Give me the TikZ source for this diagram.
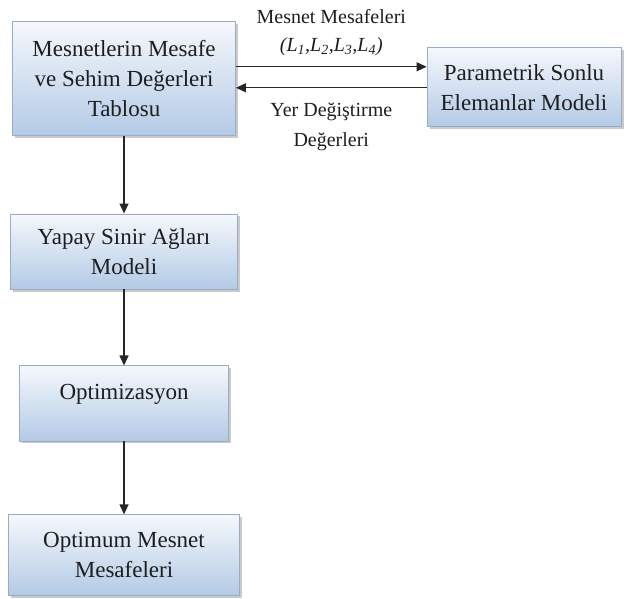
\documentclass[tikz,border=0pt]{standalone}
\usepackage{fontspec}
\setmainfont{Liberation Serif}
\usetikzlibrary{arrows.meta, positioning, calc, shadows}
\definecolor{boxtop}{HTML}{F5F8FC}
\definecolor{boxbot}{HTML}{B3CAE6}
\definecolor{boxline}{HTML}{98ACC6}
\definecolor{inktext}{HTML}{1E1E1E}
\tikzset{
  gbox/.style={rectangle, draw=boxline, line width=0.8pt,
               top color=boxtop, bottom color=boxbot,
               drop shadow={shadow xshift=2.5pt, shadow yshift=-2.5pt,
                            fill=black!35, opacity=0.6},
               minimum width=#1, minimum height=2.64cm, align=center,
               text=inktext, font=\fontsize{23}{30}\selectfont},
  gbox/.default=7.8cm,
  lbl/.style={font=\fontsize{20}{28}\selectfont, text=inktext, align=center},
  arr/.style={-{Triangle[length=10pt, width=9pt]}, line width=1.3pt, #1},
  arr/.default=black!85,
}
\begin{document}
\begin{tikzpicture}
  \useasboundingbox (0,0) rectangle (22.04,21.05);

  % left column
  \node[gbox=7.84cm, minimum height=4.01cm] (tablo) at (4.36, 18.28)
    {Mesnetlerin Mesafe\\ve Sehim Değerleri\\Tablosu};
  \node[gbox=7.98cm] (ysa) at (4.36, 12.21) {Yapay Sinir Ağları\\Modeli};
  \node[gbox=7.35cm, text depth=23.5pt] (opt) at (4.36, 6.87) {Optimizasyon};
  \node[gbox=8.12cm, minimum height=2.85cm] (sonuc) at (4.36, 1.53)
    {Optimum Mesnet\\Mesafeleri};

  % finite element model
  \node[gbox=6.82cm, minimum height=2.78cm] (fem) at (18.42, 17.98)
    {Parametrik Sonlu\\Elemanlar Modeli};

  \draw[arr] ([yshift=12pt]tablo.east) -- ([yshift=12pt]tablo.east -| fem.west)
    node[lbl, midway, above=7pt] (girdilbl)
    {Mesnet Mesafeleri\\\textit{(L\textsubscript{1},L\textsubscript{2},L\textsubscript{3},L\textsubscript{4})}};
  \draw[arr] ([yshift=-9pt]tablo.east -| fem.west) -- ([yshift=-9pt]tablo.east)
    node[lbl, midway, below=11pt] (ciktilbl) {Yer Değiştirme\\[2pt]Değerleri};

  \draw[arr] (tablo) -- (ysa);
  \draw[arr] (ysa) -- (opt);
  \draw[arr] (opt) -- (sonuc);
\end{tikzpicture}
\end{document}
